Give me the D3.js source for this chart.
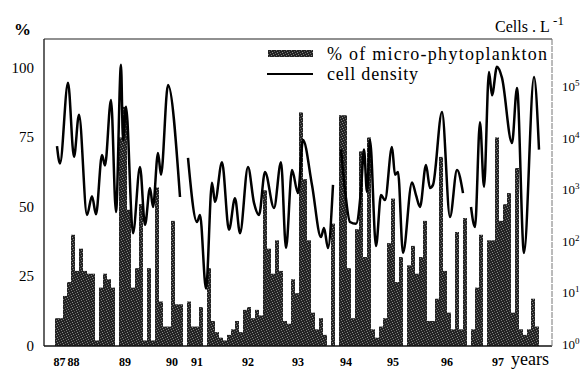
<!DOCTYPE html>
<html>
<head>
<meta charset="utf-8">
<script src="https://cdn.jsdelivr.net/npm/d3@7/dist/d3.min.js"></script>
<style>
  html, body { margin: 0; padding: 0; background: #fff; }
  svg { display: block; }
  text { font-family: "Liberation Serif", "Times New Roman", serif; fill: #000; }
</style>
</head>
<body>
<svg id="chart" width="585" height="370"></svg>
<script>
// Share of micro-phytoplankton (%) for each sampling date, 1987-1997
const microPct = [
  10, 10, 18, 23, 40, 27, 35, 27, 26, 26, 2, 21, 26, 24, 21, 0,
  75, 86, 49, 21, 28, 51, 2, 28, 2, 57, 16, 7, 7, 45, 15, 15,
  0, 16, 7, 7, 14, 0, 28, 9, 5, 3, 2, 4, 6, 9, 5, 13,
  14, 10, 13, 11, 56, 35, 26, 38, 27, 9, 8, 24, 19, 84, 60, 38,
  12, 6, 10, 4, 0, 44, 0, 83, 83, 28, 10, 42, 70, 32, 75, 6,
  3, 7, 10, 37, 53, 23, 32, 0, 29, 36, 26, 32, 45, 9, 9, 17,
  68, 27, 12, 6, 41, 6, 46, 0, 6, 21, 40, 0, 38, 38, 75, 45,
  51, 55, 12, 64, 6, 4, 6, 17, 7
];

// Phytoplankton cell density (cells per litre); null marks a break in the record
const densityT = [
  0.5, 1.25, 3.25, 4.75, 6, 8, 9.25, 10.25, 11.75, 12.5, 14, 15.25, 16.5, 17, 17.75,
  19.5, 21.25, 22.5, 23.75, 24.5, 25.75, 26.5, 28.25, 31.25, 32,
  33.25, 35.5, 36.25, 37.75, 39.25, 40, 41.75, 43.5, 45, 46.25, 48.25, 49.75, 51,
  52.5, 54.75, 56.5, 57.75, 59.25, 60.75, 62, 64.25, 66.5, 67.25, 68.25, 69.5, 70.5,
  71.5, 72.5, 73.75, 75.25, 76.5, 77.25, 78, 78.75, 80.25, 81.5, 82.5, 84.25, 85,
  85.75, 87, 89.25, 90.25, 91.25, 92.75, 93.75, 94.5, 96.75, 98.75, 100.5, 102, 103,
  104, 105, 106.25, 107.25, 108.5, 109.25, 110.5, 111.75, 114.25, 115.5, 117.25, 119.75, 121
];
const densityCells = [
  7600, 3500, 129000, 4700, 31000, 350, 810, 360, 5100, 3200, 60000, 400, 288000, 10000, 44000,
  155, 3000, 225, 1170, 500, 5600, 2100, 117000, 780, null,
  4500, 255, 350, 13, 1480, 630, 3700, 180, 740, 155, 3000, 600, 350,
  2400, 480, 3700, 80, 2600, 930, 10000, 1340, 130, 195, 80, 1340, null,
  6500, 1070, 255, 235, 1070, 6500, 980, 10000, 87, 850, 680, 7300, 2100,
  2400, 64, 1500, 850, 500, 3250, 1170, 1340, 35000, 320, 2600, 930, null,
  500, 205, 22000, 1230, 209000, 74000, 263000, 160000, 8700, 102000, 64, 166000, 6500
];

// Year labels along the sampling axis
const yearLabels = ["87", "88", "89", "90", "91", "92", "93", "94", "95", "96", "97"];
const yearAt = [1.1, 4.6, 17.5, 29.25, 35.5, 48.25, 60.75, 72.75, 84.5, 98, 110.75];

const pctTicks = [0, 25, 50, 75, 100];
const cellExponents = [0, 1, 2, 3, 4, 5];

const svg = d3.select("#chart");
const plotL = 44, plotR = 552, plotT = 39, plotB = 346;

const x = d3.scaleLinear().domain([0, microPct.length]).range([55, 539]);
const yPct = d3.scaleLinear().domain([0, 110.4]).range([plotB, plotT]);
const yCells = d3.scaleLog().domain([1, Math.pow(10, 5.96)]).range([plotB, plotT]);

// Fine-grained stipple fill for the bars
const defs = svg.append("defs");
const pat = defs.append("pattern")
  .attr("id", "stipple").attr("patternUnits", "userSpaceOnUse")
  .attr("width", 5).attr("height", 5);
pat.append("rect").attr("width", 5).attr("height", 5).attr("fill", "#232323");
[[1, 0, "#7a7a7a"], [4, 1, "#5c5c5c"], [2, 2, "#8c8c8c"], [0, 3, "#666"], [3, 4, "#7f7f7f"]]
  .forEach(([px, py, c]) => pat.append("rect")
    .attr("x", px).attr("y", py).attr("width", 1).attr("height", 1).attr("fill", c));

// Bars
svg.append("g").selectAll("rect")
  .data(microPct)
  .join("rect")
  .attr("x", (d, i) => x(i))
  .attr("width", (d, i) => x(i + 1) - x(i))
  .attr("y", d => yPct(d))
  .attr("height", d => yPct(0) - yPct(d))
  .attr("fill", "url(#stipple)");

// Cell density line
const pts = densityT.map((t, i) => [t, densityCells[i]]);
const line = d3.line()
  .defined(d => d[1] !== null)
  .x(d => x(d[0]))
  .y(d => yCells(d[1]))
  .curve(d3.curveMonotoneX);
svg.append("path")
  .datum(pts)
  .attr("d", line)
  .attr("fill", "none")
  .attr("stroke", "#000")
  .attr("stroke-width", 2.5)
  .attr("stroke-linejoin", "round");

// Frame
svg.append("line").attr("x1", plotL).attr("x2", plotL).attr("y1", plotT).attr("y2", plotB)
  .attr("stroke", "#111").attr("stroke-width", 1.3);
svg.append("line").attr("x1", plotL).attr("x2", plotR).attr("y1", plotT).attr("y2", plotT)
  .attr("stroke", "#222").attr("stroke-width", 1.2);
svg.append("line").attr("x1", plotL).attr("x2", plotR).attr("y1", plotB).attr("y2", plotB)
  .attr("stroke", "#111").attr("stroke-width", 1.4);
svg.append("line").attr("x1", plotR).attr("x2", plotR).attr("y1", plotT).attr("y2", plotB)
  .attr("stroke", "#777").attr("stroke-width", 1).attr("stroke-dasharray", "6 1");

// Left axis labels
const gl = svg.append("g");
gl.selectAll("text").data(pctTicks).join("text")
  .attr("x", 34).attr("y", d => yPct(d) + 5)
  .attr("text-anchor", "end").attr("font-size", 15)
  .text(d => d);
svg.append("text").attr("x", 14).attr("y", 35).attr("font-size", 17)
  .attr("font-weight", "bold").text("%");

// Right axis labels (powers of ten)
const gr = svg.append("g");
const rt = gr.selectAll("text").data(cellExponents).join("text")
  .attr("x", 562).attr("y", d => yCells(Math.pow(10, d)) + 3)
  .attr("font-size", 13);
rt.append("tspan").text("10");
rt.append("tspan").attr("dy", -5).attr("font-size", 9).text(d => d);

const cl = svg.append("text").attr("x", 495).attr("y", 32).attr("font-size", 16);
cl.append("tspan").text("Cells . L ");
cl.append("tspan").attr("dy", -7).attr("font-size", 13).text("-1");

// Year labels
svg.append("g").selectAll("text").data(yearLabels).join("text")
  .attr("x", (d, i) => x(yearAt[i]))
  .attr("y", 366)
  .attr("text-anchor", "middle")
  .attr("font-size", 12).attr("font-weight", "bold")
  .text(d => d);
svg.append("text").attr("x", 511).attr("y", 365).attr("font-size", 18).text("years");

// Legend
svg.append("rect").attr("x", 268).attr("y", 50).attr("width", 45).attr("height", 7)
  .attr("fill", "url(#stipple)");
svg.append("line").attr("x1", 267).attr("x2", 313).attr("y1", 74).attr("y2", 74)
  .attr("stroke", "#000").attr("stroke-width", 2);
svg.append("text").attr("x", 327).attr("y", 60).attr("font-size", 18)
  .attr("textLength", 220).attr("lengthAdjust", "spacing")
  .text("% of micro-phytoplankton");
svg.append("text").attr("x", 327).attr("y", 80).attr("font-size", 18)
  .attr("textLength", 91).attr("lengthAdjust", "spacing")
  .text("cell density");
</script>
</body>
</html>
